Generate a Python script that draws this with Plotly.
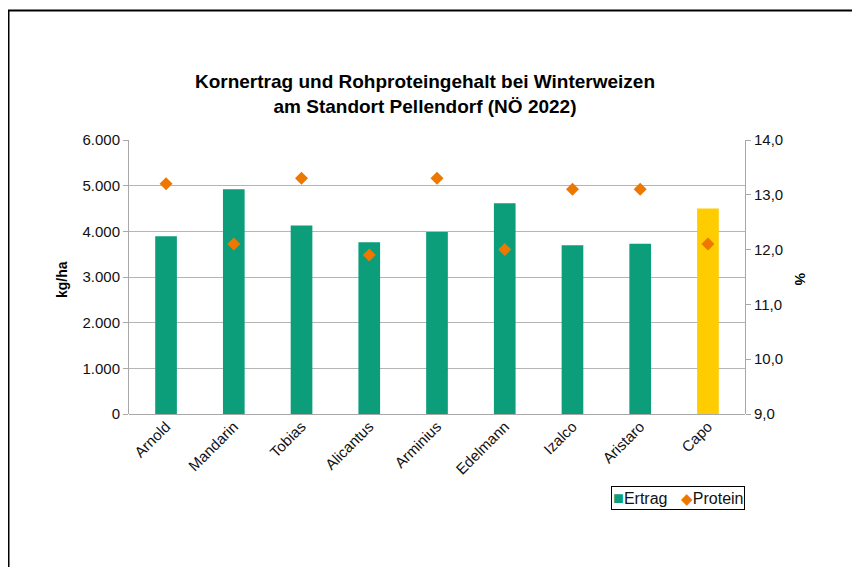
import plotly.graph_objects as go

sorten = ["Arnold", "Mandarin", "Tobias", "Alicantus", "Arminius", "Edelmann", "Izalco", "Aristaro", "Capo"]
ertrag = [3890, 4920, 4130, 3760, 3985, 4615, 3695, 3730, 4500]
protein = [13.2, 12.1, 13.3, 11.9, 13.3, 12.0, 13.1, 13.1, 12.1]
bar_colors = ["#0c9d7b"] * 8 + ["#ffcc00"]
GREEN, ORANGE = "#0c9d7b", "#ee7700"

left_ticks = [0, 1000, 2000, 3000, 4000, 5000, 6000]
right_ticks = [9, 10, 11, 12, 13, 14]

FONT = "Liberation Sans, Arial, Helvetica, sans-serif"

# plot area in div coordinates
L, R, T, B = 121, 737, 132, 406
PW, PH = R - L, B - T

fig = go.Figure()
fig.add_trace(go.Bar(
    x=sorten, y=ertrag, name="Ertrag",
    marker=dict(color=bar_colors, line=dict(width=0)),
    yaxis="y",
))
fig.add_trace(go.Scatter(
    x=sorten, y=protein, name="Protein", mode="markers",
    marker=dict(symbol="diamond", size=10, color=ORANGE),
    yaxis="y2",
))

fig.update_layout(
    width=860, height=567,
    separators=",.",
    paper_bgcolor="white", plot_bgcolor="white",
    font=dict(family=FONT, size=14, color="#111111"),
    margin=dict(l=L, r=860 - R, t=T, b=567 - B, autoexpand=False),
    bargap=0.68,
    showlegend=False,
    title=dict(
        text="<b>Kornertrag und Rohproteingehalt bei Winterweizen<br>am Standort Pellendorf (NÖ 2022)</b>",
        x=(425 - 8 - L) / PW, xref="paper", xanchor="center",
        y=1 - 80 / 567, yref="container", yanchor="middle",
        font=dict(family=FONT, size=19, color="#000000"),
    ),
    xaxis=dict(
        tickangle=-45, showgrid=False, showline=False,
        tickfont=dict(size=15),
    ),
    yaxis=dict(
        range=[0, 6000], tickvals=left_ticks, tickformat=",.0f",
        showgrid=True, gridcolor="#b5b5b5", gridwidth=1,
        showline=True, linecolor="#a8a8a8", linewidth=1,
        ticks="outside", ticklen=5, tickcolor="#a8a8a8",
        zeroline=True, zerolinecolor="#a8a8a8", zerolinewidth=1,
        tickfont=dict(size=15),
    ),
    yaxis2=dict(
        range=[9, 14], tickvals=right_ticks, tickformat=".1f",
        overlaying="y", side="right", showgrid=False,
        showline=True, linecolor="#a8a8a8", linewidth=1,
        ticks="outside", ticklen=5, tickcolor="#a8a8a8",
        tickfont=dict(size=15),
    ),
)

# compact legend box (symbol directly before text, as in the reference)
fig.add_annotation(
    text=(f"<span style='color:{GREEN};font-size:18px'>■</span>Ertrag&nbsp;&nbsp;&nbsp;"
          f"<span style='color:{ORANGE};font-size:15px'>◆</span>Protein"),
    xref="paper", yref="paper", x=1.0, y=(B - 478) / PH,
    xanchor="right", yanchor="top", showarrow=False,
    font=dict(size=16, color="#111111"),
    bordercolor="#000000", borderwidth=1, borderpad=1, bgcolor="white",
)

fig.add_annotation(
    text="<b>kg/ha</b>", xref="paper", yref="paper", x=(54 - L) / PW, y=(B - 272) / PH,
    showarrow=False, textangle=-90, font=dict(size=14, color="#000000"),
    xanchor="center", yanchor="middle",
)
fig.add_annotation(
    text="<b>%</b>", xref="paper", yref="paper", x=(792 - L) / PW, y=(B - 272) / PH,
    showarrow=False, textangle=90, font=dict(size=14, color="#000000"),
    xanchor="center", yanchor="middle",
)

fig.add_shape(
    type="rect", xref="paper", yref="paper",
    x0=(0.5 - L) / PW, x1=(845 - L) / PW, y0=-0.7, y1=(B - 2.5) / PH,
    line=dict(color="#000000", width=2), fillcolor="rgba(0,0,0,0)", layer="below",
)

fig.write_html("out.html")
